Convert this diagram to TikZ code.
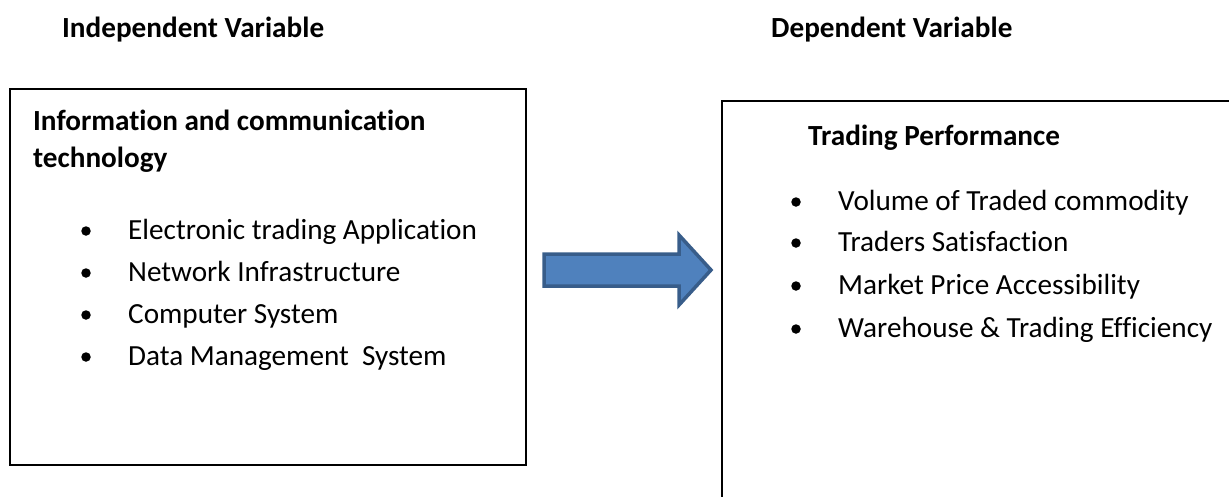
\documentclass[tikz,border=0pt]{standalone}
\usepackage{fontspec}
\setmainfont[Ligatures=NoCommon]{Carlito}
\begin{document}
\begin{tikzpicture}[x=1pt,y=-1pt,
  lbl/.style={anchor=base west,inner sep=0pt,font=\fontsize{29.2}{34}\selectfont},
  head/.style={lbl,font=\fontsize{29.2}{34}\selectfont\bfseries},
  dot/.style={circle,fill=black,inner sep=0pt,minimum size=9.5pt},
  frame/.style={draw=black,line width=1.6pt},
  bigarrow/.style={fill=arrowfill,draw=arrowline,line width=3.5pt,line join=miter}]
\definecolor{arrowfill}{HTML}{4F81BD}
\definecolor{arrowline}{HTML}{385D8A}
\useasboundingbox (0,0) rectangle (1229,496);
\clip (0,0) rectangle (1229,496);
% headings
\node[head] (iv) at (62,37) {Independent Variable};
\node[head] (dv) at (771,37) {Dependent Variable};
% left box
\draw[frame] (10,89) rectangle (526,465);
\node[head] (ict1) at (33,130) {Information and communication};
\node[head] (ict2) at (33,167) {technology};
\foreach \t/\y/\n in {Electronic trading Application/239/a,Network Infrastructure/281/b,Computer System/323/c,Data Management\ \ System/365/d}{
  \node[dot] (ld\n) at (86,\y-8) {};
  \node[lbl] (lt\n) at (128,\y) {\t};
}
% right box
\draw[frame] (722,101) rectangle (1240,510);
\node[head] (tp) at (808,145) {Trading Performance};
\foreach \t/\y/\n in {Volume of Traded commodity/210/a,Traders Satisfaction/251/b,Market Price Accessibility/294/c,Warehouse \& Trading Efficiency/337/d}{
  \node[dot] (rd\n) at (796,\y-8) {};
  \node[lbl] (rt\n) at (838,\y) {\t};
}
% arrow
\draw[bigarrow] (544,254) -- (679,254) -- (679,235) -- (711,270) -- (679,305) -- (679,286) -- (544,286) -- cycle;
\end{tikzpicture}
\end{document}
